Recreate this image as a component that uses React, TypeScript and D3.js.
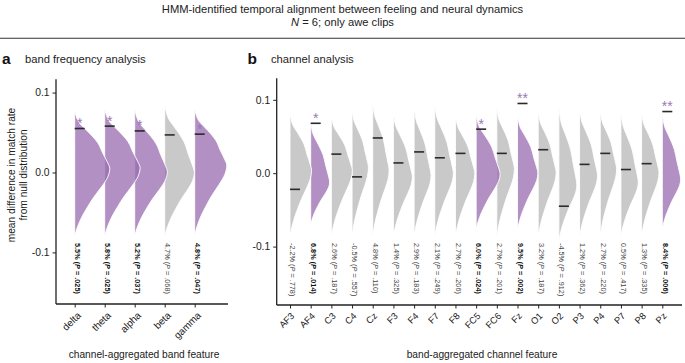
import React, { useEffect, useRef } from 'react';
import * as d3 from 'd3';

// ---------- Panel a: band frequency analysis ----------
const bands = ['delta', 'theta', 'alpha', 'beta', 'gamma'];
const bandMeans = [5.5, 5.8, 5.2, 4.7, 4.8];
const bandP = ['.025', '.025', '.037', '.068', '.047'];
const bandSig = ['*', '*', '*', '', '*'];
const bandTop = [0.078, 0.080, 0.080, 0.086, 0.080];
const bandPeak = [0.005, 0.006, 0.001, 0.0, 0.009];
const bandBottom = [-0.079, -0.079, -0.079, -0.080, -0.078];
const bandDensity = [1.17, 1.18, 1.09, 0.99, 1.07];

// ---------- Panel b: channel analysis ----------
const channels = ['AF3', 'AF4', 'C3', 'C4', 'Cz', 'F3', 'F4', 'F7', 'F8', 'FC5', 'FC6', 'Fz', 'O1', 'O2', 'P3', 'P4', 'P7', 'P8', 'Pz'];
const chMeans = [-2.2, 6.8, 2.6, -0.5, 4.8, 1.4, 2.9, 2.1, 2.7, 6.0, 2.7, 9.5, 3.2, -4.5, 1.2, 2.7, 0.5, 1.3, 8.4];
const chP = ['.778', '.014', '.187', '.557', '.110', '.325', '.183', '.249', '.206', '.024', '.201', '.002', '.187', '.912', '.362', '.220', '.417', '.335', '.006'];
const chSig = ['', '*', '', '', '', '', '', '', '', '*', '', '**', '', '', '', '', '', '', '**'];
const chTop = [0.083, 0.071, 0.079, 0.088, 0.098, 0.083, 0.092, 0.095, 0.080, 0.081, 0.091, 0.080, 0.087, 0.092, 0.090, 0.087, 0.085, 0.085, 0.083];
const chPeak = [0.004, -0.012, 0.004, 0.008, 0.004, -0.005, -0.003, 0.0, 0.0, -0.001, 0.006, 0.0, 0.001, -0.016, -0.003, 0.006, -0.012, 0.001, -0.008];
const chBottom = [-0.086, -0.070, -0.086, -0.086, -0.086, -0.086, -0.086, -0.086, -0.086, -0.076, -0.087, -0.077, -0.087, -0.092, -0.087, -0.086, -0.086, -0.086, -0.076];
const chDensity = [1.08, 0.95, 1.05, 0.82, 0.82, 0.95, 0.85, 0.93, 0.97, 1.2, 0.88, 1.02, 0.9, 0.9, 0.9, 0.82, 0.87, 0.87, 0.92];

// shared violin outline: [fraction along, relative width]
const upperProfile: [number, number][] = [[0, 0], [0.116, 0.05], [0.233, 0.15], [0.329, 0.31], [0.562, 0.66], [0.74, 0.8], [0.904, 0.94], [1, 1]];
const lowerProfile: [number, number][] = [[0, 1], [0.13, 0.94], [0.27, 0.77], [0.43, 0.54], [0.57, 0.37], [0.726, 0.2], [0.869, 0.08], [1, 0]];

const yTicks = [-0.1, 0, 0.1];

const FONT = '"Liberation Sans", Arial, Helvetica, sans-serif';
const PURPLE = '#9a6db1';
const GRAY = '#b8b8b8';
const STAR = '#9a78b2';

interface PanelCfg {
  cats: string[]; means: number[]; ps: string[]; sigs: string[];
  tops: number[]; peaks: number[]; bottoms: number[]; dens: number[];
  xRange: [number, number]; yDomain: [number, number]; yRange: [number, number];
  axisX: number; axisEndX: number; widthUnit: number;
  tickFont: number; labelDx: number; labelDy: number;
}

function drawPanel(g: d3.Selection<SVGGElement, unknown, null, undefined>, c: PanelCfg) {
  const x = d3.scalePoint<string>().domain(c.cats).range(c.xRange);
  const y = d3.scaleLinear().domain(c.yDomain).range(c.yRange);
  const w = d3.scaleLinear().domain([0, 1]).range([0, c.widthUnit]);

  const violins = g.append('g');
  for (let i = c.cats.length - 1; i >= 0; i--) {
    const top = c.tops[i], peak = c.peaks[i], bot = c.bottoms[i];
    const pts = [
      ...upperProfile.map(([u, r]) => ({ v: top - u * (top - peak), r })),
      ...lowerProfile.slice(1).map(([l, r]) => ({ v: peak - l * (peak - bot), r })),
    ];
    const cx = x(c.cats[i]) as number;
    const area = d3.area<{ v: number; r: number }>()
      .curve(d3.curveMonotoneY)
      .y(d => y(d.v))
      .x0(cx)
      .x1(d => cx + w(d.r * c.dens[i]));
    violins.append('path')
      .attr('d', area(pts) as string)
      .attr('fill', c.sigs[i] ? PURPLE : GRAY)
      .attr('fill-opacity', 0.76)
      .attr('stroke', '#fff')
      .attr('stroke-width', 0.9);
  }

  c.cats.forEach((cat, i) => {
    const cx = x(cat) as number;
    const my = y(c.means[i] / 100);
    g.append('line').attr('x1', cx).attr('x2', cx + 10).attr('y1', my).attr('y2', my)
      .attr('stroke', '#2a2a2a').attr('stroke-width', 1.6);
    if (c.sigs[i]) {
      g.append('text').attr('x', cx + 5).attr('y', my - 0.5).attr('text-anchor', 'middle')
        .attr('font-size', 14).attr('fill', STAR).attr('font-family', FONT).text(c.sigs[i]);
    }
    const bold = !!c.sigs[i];
    const t = g.append('text')
      .attr('transform', `translate(${cx + 0.3},243) rotate(90)`)
      .attr('font-size', 7.3).attr('font-family', FONT)
      .attr('font-weight', bold ? 'bold' : 'normal')
      .attr('fill', bold ? '#111' : '#444');
    t.append('tspan').text(`${c.means[i].toFixed(1)}% (`);
    t.append('tspan').attr('font-style', 'italic').text('P');
    t.append('tspan').text(` = ${c.ps[i]})`);
  });

  // y axis
  const yAxis = d3.axisLeft(y).tickValues(yTicks).tickSize(3.5).tickPadding(3)
    .tickFormat(d => (+d).toFixed(1));
  const ya = g.append('g').attr('transform', `translate(${c.axisX},0)`).call(yAxis);
  ya.select('.domain').attr('d', `M0,${c.yRange[1]}V${c.yRange[0]}`).attr('stroke', '#222').attr('stroke-width', 1.3);
  ya.selectAll('.tick line').attr('stroke', '#222').attr('stroke-width', 1);
  ya.selectAll('.tick text').attr('font-size', 10.3).attr('font-family', FONT).attr('fill', '#222');

  // x axis
  const xAxis = d3.axisBottom(x).tickSize(3.5).tickFormat(() => '');
  const xa = g.append('g').attr('transform', `translate(0,${c.yRange[0]})`).call(xAxis);
  xa.select('.domain').attr('d', `M${c.axisX},0H${c.axisEndX}`).attr('stroke', '#222').attr('stroke-width', 1.3);
  xa.selectAll('.tick line').attr('stroke', '#222').attr('stroke-width', 1);
  c.cats.forEach(cat => {
    const cx = x(cat) as number;
    g.append('text')
      .attr('transform', `translate(${cx + c.labelDx},${c.yRange[0] + c.labelDy}) rotate(-45)`)
      .attr('text-anchor', 'end').attr('font-size', c.tickFont).attr('font-family', FONT)
      .attr('fill', '#222').text(cat);
  });
}

export default function App() {
  const ref = useRef<SVGSVGElement>(null);
  useEffect(() => {
    const svg = d3.select(ref.current as SVGSVGElement);
    svg.selectAll('*').remove();
    svg.append('rect').attr('width', 685).attr('height', 363).attr('fill', '#fff');

    // title
    svg.append('text').attr('x', 342.5).attr('y', 12.5).attr('text-anchor', 'middle')
      .attr('font-size', 11.2).attr('font-family', FONT).attr('fill', '#222')
      .text('HMM-identified temporal alignment between feeling and neural dynamics');
    const sub = svg.append('text').attr('x', 342.5).attr('y', 25.5).attr('text-anchor', 'middle')
      .attr('font-size', 11.2).attr('font-family', FONT).attr('fill', '#222');
    sub.append('tspan').attr('font-style', 'italic').text('N');
    sub.append('tspan').text(' = 6; only awe clips');
    svg.append('line').attr('x1', 0).attr('x2', 685).attr('y1', 38.3).attr('y2', 38.3)
      .attr('stroke', '#333').attr('stroke-width', 1.1);

    // panel labels
    svg.append('text').attr('x', 2).attr('y', 63.5).attr('font-size', 15.5).attr('font-weight', 'bold')
      .attr('font-family', FONT).attr('fill', '#111').text('a');
    svg.append('text').attr('x', 25).attr('y', 63).attr('font-size', 11.2)
      .attr('font-family', FONT).attr('fill', '#222').text('band frequency analysis');
    svg.append('text').attr('x', 247.5).attr('y', 63.5).attr('font-size', 15.5).attr('font-weight', 'bold')
      .attr('font-family', FONT).attr('fill', '#111').text('b');
    svg.append('text').attr('x', 271).attr('y', 63).attr('font-size', 11.2)
      .attr('font-family', FONT).attr('fill', '#222').text('channel analysis');

    // y label panel a
    const yl = svg.append('text').attr('transform', 'translate(14.5,175) rotate(-90)')
      .attr('text-anchor', 'middle').attr('font-size', 10.2).attr('font-family', FONT).attr('fill', '#222');
    yl.append('tspan').attr('x', 0).attr('y', 0).text('mean difference in match rate');
    yl.append('tspan').attr('x', 0).attr('y', 12).text('from null distribution');

    // x titles
    svg.append('text').attr('x', 144).attr('y', 358).attr('text-anchor', 'middle').attr('font-size', 10.2)
      .attr('font-family', FONT).attr('fill', '#222').text('channel-aggregated band feature');
    svg.append('text').attr('x', 482).attr('y', 358).attr('text-anchor', 'middle').attr('font-size', 10.2)
      .attr('font-family', FONT).attr('fill', '#222').text('band-aggregated channel feature');

    const ga = svg.append('g') as any;
    drawPanel(ga, {
      cats: bands, means: bandMeans, ps: bandP, sigs: bandSig,
      tops: bandTop, peaks: bandPeak, bottoms: bandBottom, dens: bandDensity,
      xRange: [74.7, 194.7], yDomain: [-0.1646, 0.1166], yRange: [304, 79.3],
      axisX: 56, axisEndX: 228, widthUnit: 30, tickFont: 10, labelDx: 7, labelDy: 12,
    });
    const gb = svg.append('g') as any;
    drawPanel(gb, {
      cats: channels, means: chMeans, ps: chP, sigs: chSig,
      tops: chTop, peaks: chPeak, bottoms: chBottom, dens: chDensity,
      xRange: [290, 662.3], yDomain: [-0.1796, 0.1293], yRange: [305, 78.3],
      axisX: 276.7, axisEndX: 682, widthUnit: 20, tickFont: 9.3, labelDx: 5, labelDy: 11.5,
    });
  }, []);
  return (
    <svg ref={ref} width={685} height={363}
      style={{ position: 'absolute', left: 0, top: 0, display: 'block' }} />
  );
}
